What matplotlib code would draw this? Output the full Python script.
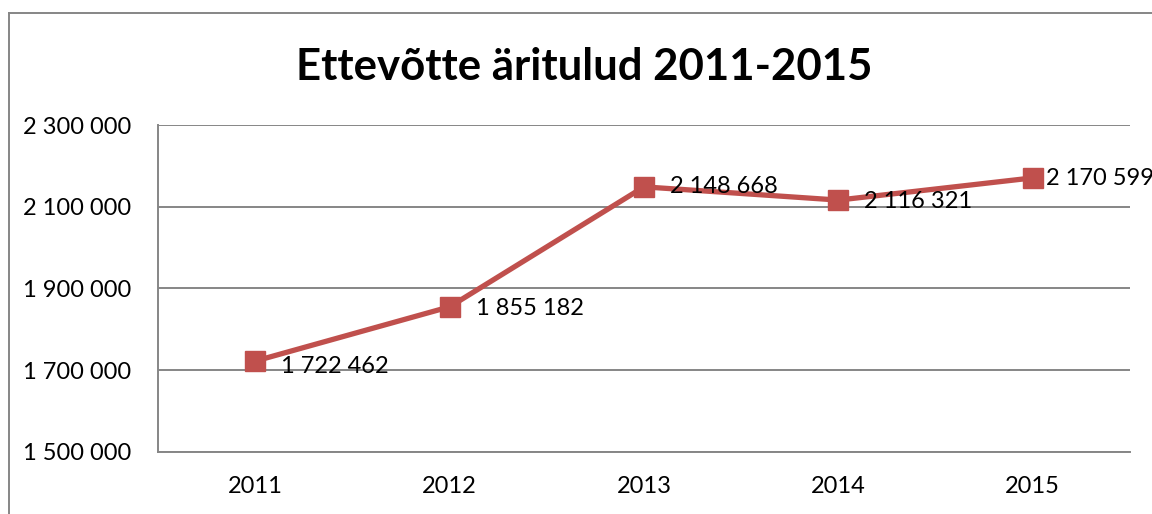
import matplotlib.pyplot as plt
from matplotlib.lines import Line2D
from matplotlib.ticker import FuncFormatter

# Andmed
years = ['2011', '2012', '2013', '2014', '2015']
revenue = [1722462, 1855182, 2148668, 2116321, 2170599]
y_ticks = [1500000, 1700000, 1900000, 2100000, 2300000]

plt.rcParams['font.family'] = ['Lato', 'DejaVu Sans']


def fmt(v):
    return '{:,}'.format(int(v)).replace(',', ' ')


fig = plt.figure(figsize=(11.52, 5.14), dpi=100)
ax = fig.add_axes([158 / 1152, 62 / 514, 972 / 1152, 327 / 514])

x = range(len(years))
ax.plot(x, revenue, color='#C0504D', linewidth=3.8, marker='s',
        markersize=14, zorder=3)

# data labels to the right of markers
label_dx = [26, 26, 26, 26, 13]
label_dy = [-5, -2, 0, -1, -1]
for i, v in enumerate(revenue):
    ax.annotate(fmt(v), (i, v), xytext=(label_dx[i] * 0.72, label_dy[i] * 0.72),
                textcoords='offset points', ha='left', va='center',
                fontsize=17, color='black', zorder=4)

ax.set_xlim(-0.5, 4.5)
ax.set_ylim(1500000, 2300000)
ax.set_xticks(list(x))
ax.set_xticklabels(years)
ax.set_yticks(y_ticks)
ax.yaxis.set_major_formatter(FuncFormatter(lambda v, p: fmt(v)))
ax.tick_params(axis='both', length=0, labelsize=17)
ax.tick_params(axis='y', pad=19)
ax.tick_params(axis='x', pad=17)

ax.grid(axis='y', color='#868686', linewidth=1.4)
ax.set_axisbelow(True)
for side in ['top', 'right']:
    ax.spines[side].set_visible(False)
for side in ['left', 'bottom']:
    ax.spines[side].set_color('#868686')
    ax.spines[side].set_linewidth(1.4)

fig.text(584 / 1152, 1 - 67 / 514, 'Ettevõtte äritulud 2011-2015',
         ha='center', va='center', fontsize=31.5, fontweight='bold')

# chart area border (cropped at right and bottom)
bx = 9 / 1152
by = 1 - 13 / 514
fig.add_artist(Line2D([bx, bx], [0, by], transform=fig.transFigure,
                      color='#868686', linewidth=1.4))
fig.add_artist(Line2D([bx, 1], [by, by], transform=fig.transFigure,
                      color='#868686', linewidth=1.4))

fig.savefig('out.png', dpi=100)
